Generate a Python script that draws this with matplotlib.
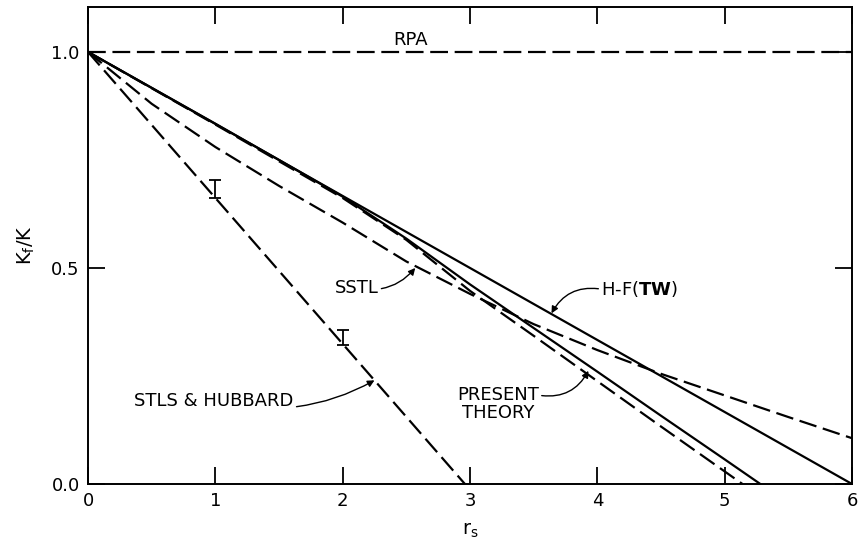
import matplotlib
matplotlib.use("Agg")
import matplotlib.pyplot as plt
import numpy as np

# Data
rs_hf = [0, 6]
kf_hf = [1.0, 0.0]

rs_present = [0, 1, 1.5, 2, 2.5, 3, 3.5, 4, 4.5, 5, 5.28]
kf_present = [1.0, 0.834, 0.75, 0.665, 0.568, 0.462, 0.361, 0.26, 0.158, 0.057, 0.0]

rs_present_d = [0, 1, 2, 2.5, 3, 3.5, 4, 4.5, 5.14]
kf_present_d = [1.0, 0.832, 0.662, 0.565, 0.447, 0.343, 0.238, 0.133, 0.0]

rs_sstl = [0, 0.5, 1, 1.5, 2, 2.5, 3, 3.5, 4, 4.5, 5, 5.5, 6]
kf_sstl = [1.0, 0.88, 0.78, 0.69, 0.605, 0.515, 0.44, 0.37, 0.31, 0.255, 0.205, 0.155, 0.106]

rs_stls = [0, 2.96]
kf_stls = [1.0, 0.0]

rs_rpa = [0, 6]
kf_rpa = [1.0, 1.0]

rs_hub = [1, 2]
kf_hub = [0.683, 0.339]
err_hub = [0.021, 0.017]

xticks = [0, 1, 2, 3, 4, 5, 6]
yticks = [0.0, 0.5, 1.0]
ytick_labels = ["0.0", "0.5", "1.0"]

fig = plt.figure(figsize=(8.6, 5.44), dpi=100)
ax = fig.add_axes([88/860, 60/544, 764/860, 477/544])

lw = 1.6
dash = (8, 3)
ax.plot(rs_rpa, kf_rpa, color="black", lw=lw, dashes=dash)
ax.plot(rs_hf, kf_hf, color="black", lw=lw)
ax.plot(rs_present, kf_present, color="black", lw=lw)
ax.plot(rs_present_d, kf_present_d, color="black", lw=lw, dashes=dash)
ax.plot(rs_sstl, kf_sstl, color="black", lw=lw, dashes=dash)
ax.plot(rs_stls, kf_stls, color="black", lw=lw, dashes=dash)
ax.errorbar(rs_hub, kf_hub, yerr=err_hub, fmt="none", ecolor="black",
            elinewidth=1.3, capsize=4, capthick=1.3)

ax.set_xlim(0, 6)
ax.set_ylim(0, 1.104)
ax.set_xticks(xticks)
ax.set_xticklabels([str(t) for t in xticks])
ax.set_yticks(yticks)
ax.set_yticklabels(ytick_labels)
ax.tick_params(direction="in", length=12, width=1.3, labelsize=13,
               top=True, right=True, pad=6, colors="black")
for s in ax.spines.values():
    s.set_linewidth(1.4)

ax.set_xlabel(r"r$_\mathregular{s}$", fontsize=14, labelpad=8)
ax.set_ylabel(r"K$_\mathregular{f}$/K", fontsize=14, labelpad=10)

fs = 13
ax.text(2.53, 1.006, "RPA", fontsize=fs, ha="center", va="bottom")

arrowprops = dict(arrowstyle="-|>", color="black", lw=1.0, mutation_scale=10)

ax.annotate("SSTL", xy=(2.57, 0.5), xytext=(2.11, 0.454), fontsize=fs,
            ha="center", va="center",
            arrowprops=dict(arrowprops, connectionstyle="arc3,rad=0.3",
                            shrinkA=0, shrinkB=0))
ax.annotate("STLS & HUBBARD", xy=(2.25, 0.24), xytext=(0.99, 0.192),
            fontsize=fs, ha="center", va="center",
            arrowprops=dict(arrowprops, connectionstyle="arc3,rad=0.2",
                            shrinkA=0, shrinkB=0))
ax.annotate(r"H-F($\mathbf{TW}$)", xy=(3.64, 0.395), xytext=(4.03, 0.451),
            fontsize=fs, ha="left", va="center",
            arrowprops=dict(arrowprops, connectionstyle="arc3,rad=0.35",
                            shrinkA=0, shrinkB=0, relpos=(0.0, 0.5)))
ax.annotate("PRESENT\nTHEORY", xy=(3.93, 0.262), xytext=(3.22, 0.185),
            fontsize=fs, ha="center", va="center", linespacing=0.95,
            arrowprops=dict(arrowprops, connectionstyle="arc3,rad=0.35",
                            shrinkA=0, shrinkB=0, relpos=(1.0, 0.75)))

fig.savefig("out.png", dpi=100)
